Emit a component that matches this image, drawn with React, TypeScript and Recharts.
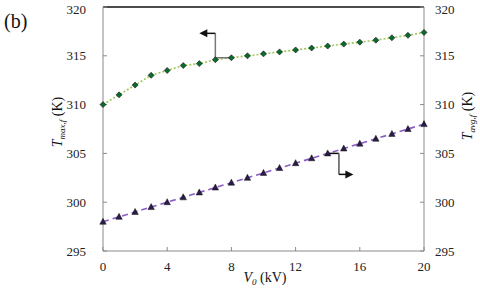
import { LineChart, Line, XAxis, YAxis, ReferenceLine, ReferenceDot } from "recharts";

const voltage = [0, 1, 2, 3, 4, 5, 6, 7, 8, 9, 10, 11, 12, 13, 14, 15, 16, 17, 18, 19, 20];
const tMax = [310, 311, 312, 313, 313.5, 314, 314.2, 314.6, 314.8, 315, 315.2, 315.4, 315.6, 315.8, 316, 316.2, 316.4, 316.6, 316.85, 317.1, 317.4];
const tAvg = [298, 298.5, 299, 299.5, 300, 300.5, 301, 301.5, 302, 302.5, 303, 303.5, 304, 304.5, 305, 305.5, 306, 306.5, 307, 307.5, 308];
const xTicks = [0, 4, 8, 12, 16, 20];
const yTicks = [295, 300, 305, 310, 315, 320];

const data = voltage.map((v, i) => ({ v, tMax: tMax[i], tAvg: tAvg[i] }));

const serif = "Liberation Serif, Times New Roman, serif";

// tick text drawn by hand so the serif face sticks
const SerifTick = (p: any) => {
  const { x, y, payload, textAnchor, dy } = p;
  return (
    <text x={x} y={y} dy={dy} textAnchor={textAnchor} fontFamily={serif} fontSize={13} fill="#222">
      {payload.value}
    </text>
  );
};

const Diamond = (p: any) => {
  const { cx, cy } = p;
  if (cx == null || cy == null) return null;
  return <polygon points={`${cx},${cy - 3} ${cx + 3},${cy} ${cx},${cy + 3} ${cx - 3},${cy}`} fill="#0b6b2e" stroke="#111" strokeWidth={0.6} />;
};

const Tri = (p: any) => {
  const { cx, cy } = p;
  if (cx == null || cy == null) return null;
  return <polygon points={`${cx},${cy - 3.5} ${cx + 3.2},${cy + 2.5} ${cx - 3.2},${cy + 2.5}`} fill="#2a1c48" stroke="#111" strokeWidth={0.5} />;
};

const HeadLeft = (p: any) => <polygon points={`${p.cx},${p.cy} ${p.cx + 8},${p.cy - 4} ${p.cx + 8},${p.cy + 4}`} fill="#111" />;
const HeadRight = (p: any) => <polygon points={`${p.cx},${p.cy} ${p.cx - 8},${p.cy - 4} ${p.cx - 8},${p.cy + 4}`} fill="#111" />;

export default function App() {
  return (
    <div style={{ position: "absolute", left: 0, top: 0, width: 480, height: 290, background: "#fff", fontFamily: serif }}>
      <LineChart width={480} height={290} data={data} margin={{ top: 7, right: 0, left: 0, bottom: 0 }} style={{ fontFamily: serif }}>
        <XAxis
          dataKey="v"
          type="number"
          domain={[0, 20]}
          ticks={xTicks}
          tick={<SerifTick dy={10} textAnchor="middle" />}
          height={39}
          stroke="#8a8a8a"
          tickSize={-4}
          tickMargin={14}
        />
        <YAxis
          yAxisId="l"
          domain={[295, 320]}
          ticks={yTicks}
          tick={<SerifTick dy={4.5} textAnchor="end" />}
          width={103}
          stroke="#8a8a8a"
          tickSize={-4}
          tickMargin={21}
        />
        <YAxis
          yAxisId="r"
          orientation="right"
          domain={[295, 320]}
          ticks={yTicks}
          tick={<SerifTick dy={4.5} textAnchor="start" />}
          width={56}
          stroke="#8a8a8a"
          tickSize={-4}
          tickMargin={15}
        />
        <ReferenceLine yAxisId="l" y={320} stroke="#111" strokeWidth={1.5} />
        <Line
          yAxisId="l"
          dataKey="tMax"
          stroke="#9cc75a"
          strokeWidth={1.6}
          strokeDasharray="2 2"
          dot={<Diamond />}
          isAnimationActive={false}
        />
        <Line
          yAxisId="r"
          dataKey="tAvg"
          stroke="#8b5cc6"
          strokeWidth={1.6}
          strokeDasharray="6 4"
          dot={<Tri />}
          isAnimationActive={false}
        />
        <ReferenceLine yAxisId="l" segment={[{ x: 7, y: 314.8 }, { x: 8, y: 314.8 }]} stroke="#777" strokeWidth={1.5} />
        <ReferenceLine yAxisId="l" segment={[{ x: 7, y: 314.8 }, { x: 7, y: 317.3 }]} stroke="#777" strokeWidth={1.5} />
        <ReferenceLine yAxisId="l" segment={[{ x: 6.3, y: 317.3 }, { x: 7, y: 317.3 }]} stroke="#111" strokeWidth={1.5} />
        <ReferenceDot yAxisId="l" x={6.0} y={317.3} shape={<HeadLeft />} />
        <ReferenceLine yAxisId="r" segment={[{ x: 14, y: 305 }, { x: 14.7, y: 305 }]} stroke="#111" strokeWidth={1.5} />
        <ReferenceLine yAxisId="r" segment={[{ x: 14.7, y: 305 }, { x: 14.7, y: 302.85 }]} stroke="#555" strokeWidth={1.5} />
        <ReferenceLine yAxisId="r" segment={[{ x: 14.7, y: 302.85 }, { x: 15.3, y: 302.85 }]} stroke="#111" strokeWidth={1.5} />
        <ReferenceDot yAxisId="r" x={15.6} y={302.85} shape={<HeadRight />} />
      </LineChart>
      <svg width={480} height={290} style={{ position: "absolute", left: 0, top: 0, pointerEvents: "none" }}>
        <text x={4} y={28} fontFamily={serif} fontSize={20} fill="#111">(b)</text>
        <text transform="translate(62,122) rotate(-90)" textAnchor="middle" fontFamily={serif} fontSize={14} fill="#111">
          <tspan fontStyle="italic">T</tspan>
          <tspan fontStyle="italic" fontSize={9} dy={3}>max,f</tspan>
          <tspan dy={-3}> (K)</tspan>
        </text>
        <text transform="translate(472,116) rotate(-90)" textAnchor="middle" fontFamily={serif} fontSize={14} fill="#111">
          <tspan fontStyle="italic">T</tspan>
          <tspan fontStyle="italic" fontSize={9} dy={3}>avg,f</tspan>
          <tspan dy={-3}> (K)</tspan>
        </text>
        <text x={265} y={282} textAnchor="middle" fontFamily={serif} fontSize={14} fill="#111">
          <tspan fontStyle="italic">V</tspan>
          <tspan fontStyle="italic" fontSize={9} dy={3}>0</tspan>
          <tspan dy={-3}> (kV)</tspan>
        </text>
      </svg>
    </div>
  );
}
